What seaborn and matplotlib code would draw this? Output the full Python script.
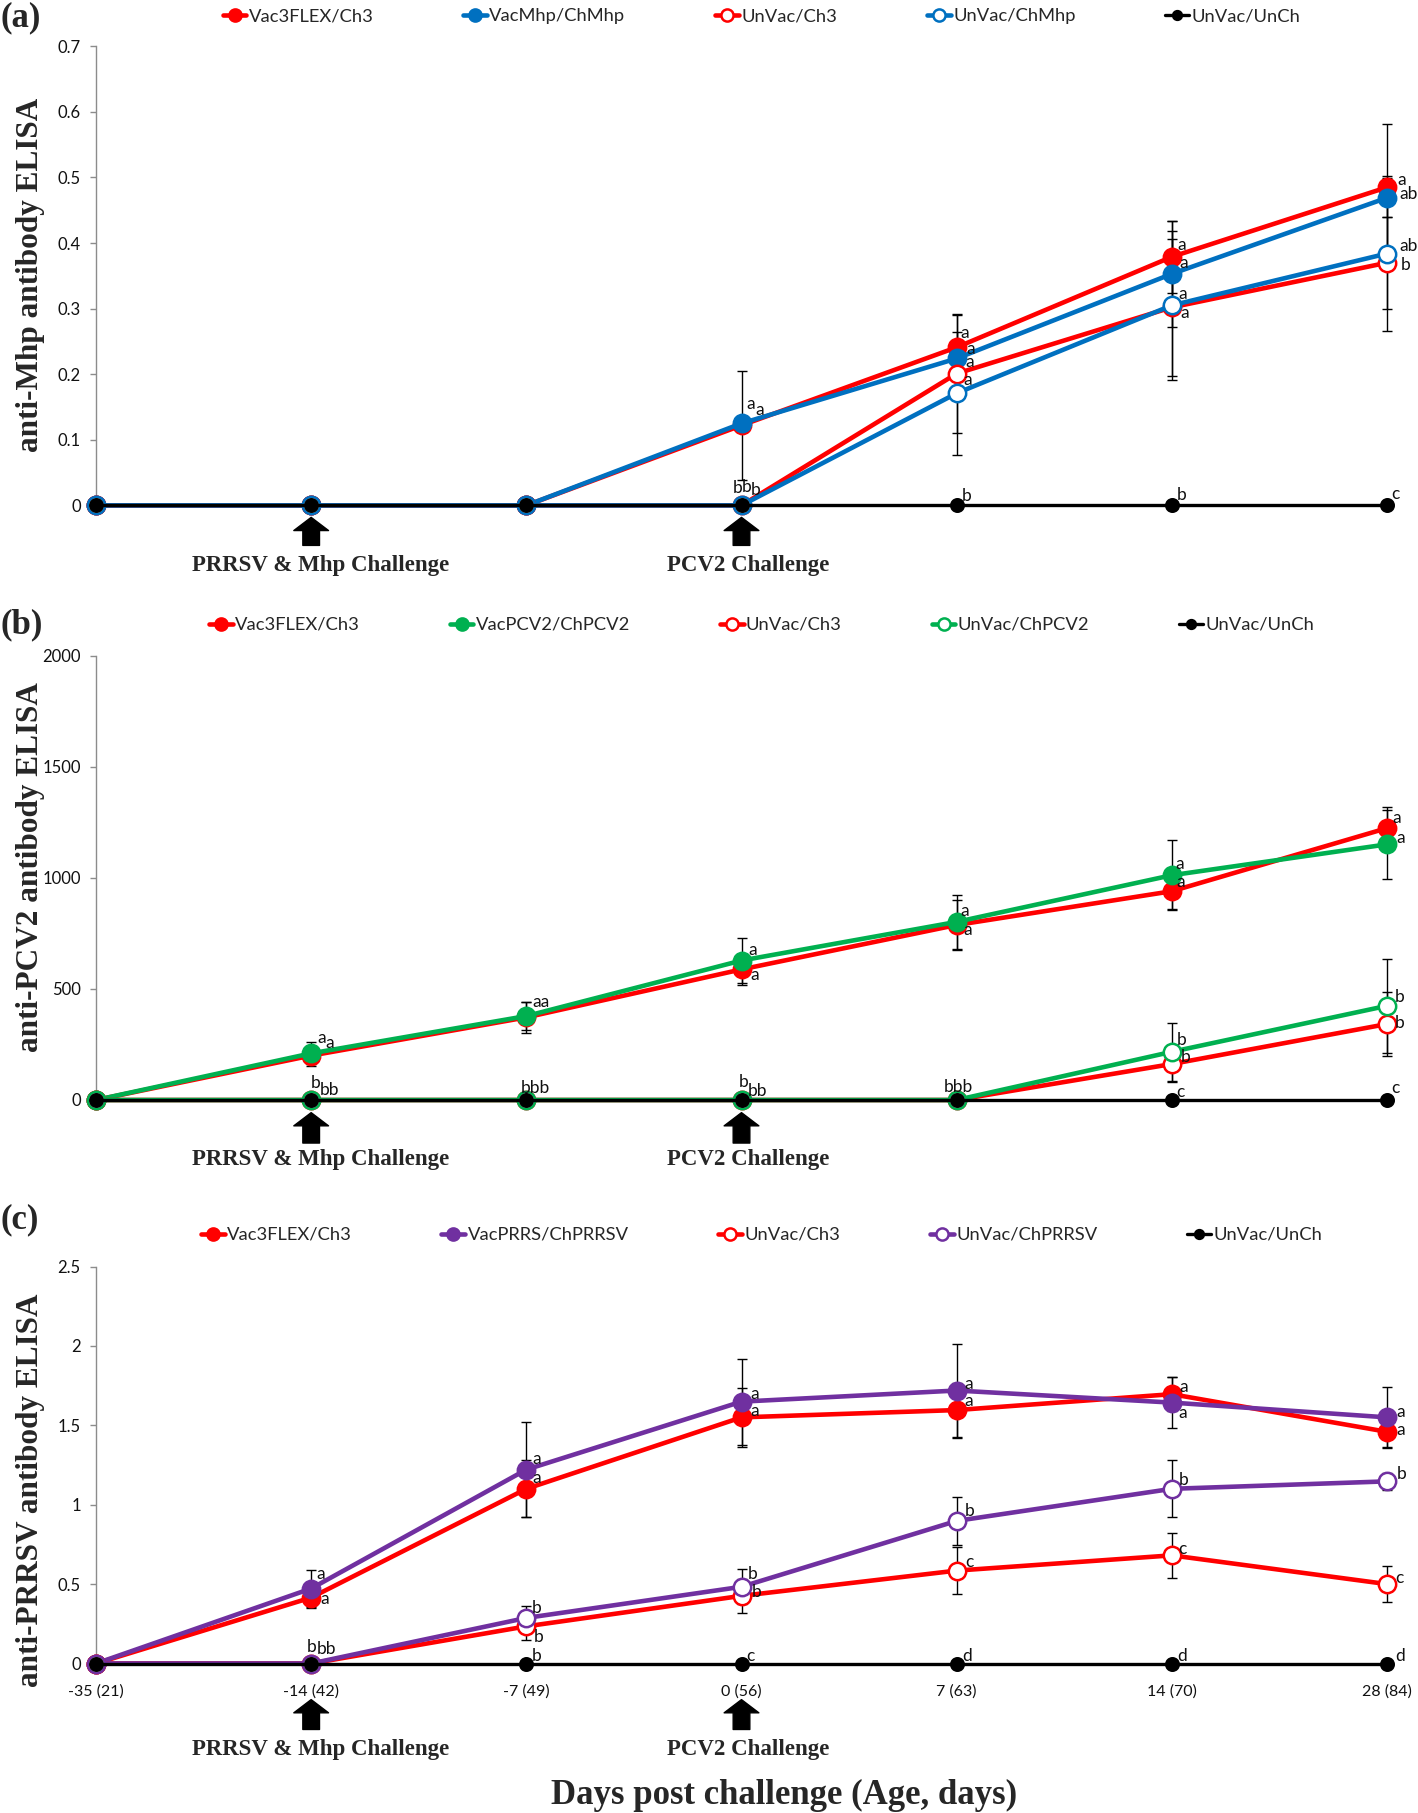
import numpy as np
import matplotlib
matplotlib.use("Agg")
import matplotlib.pyplot as plt
import seaborn as sns

sns.set_theme(style="white")
plt.rcParams['font.family'] = ['Lato', 'DejaVu Sans']
SERIF = 'Liberation Serif'

# eje x: dias post desafio (edad, dias)
days = ["-35 (21)", "-14 (42)", "-7 (49)", "0 (56)", "7 (63)", "14 (70)", "28 (84)"]
zero = [0, 0, 0, 0, 0, 0, 0]

# (a) anti-Mhp ELISA
mhp_vac3 = [0, 0, 0, 0.122, 0.241, 0.379, 0.485]
mhp_vac3_sd = [0, 0, 0, 0.083, 0.050, 0.055, 0.097]
mhp_vacmhp = [0, 0, 0, 0.125, 0.224, 0.353, 0.469]
mhp_vacmhp_sd = [0, 0, 0, 0, 0, 0.081, 0.030]
mhp_unvac3 = [0, 0, 0, 0, 0.201, 0.302, 0.370]
mhp_unvac3_sd = [0, 0, 0, 0, 0.091, 0.104, 0.070]
mhp_unvacmhp = [0, 0, 0, 0, 0.171, 0.305, 0.384]
mhp_unvacmhp_sd = [0, 0, 0, 0, 0.094, 0.114, 0.118]
# letras de significancia: (dia, desplazamiento x, y, texto)
mhp_letters = [
    (3, 0.045, 0.155, "a"), (3, 0.086, 0.146, "a"),
    (3, -0.017, 0.026, "b"), (3, 0.026, 0.028, "b"), (3, 0.065, 0.023, "b"),
    (4, 0.038, 0.263, "a"), (4, 0.067, 0.239, "a"), (4, 0.062, 0.219, "a"), (4, 0.052, 0.191, "a"),
    (4, 0.048, 0.015, "b"),
    (5, 0.046, 0.397, "a"), (5, 0.057, 0.369, "a"), (5, 0.050, 0.323, "a"), (5, 0.059, 0.293, "a"),
    (5, 0.047, 0.016, "b"),
    (6, 0.066, 0.496, "a"), (6, 0.100, 0.475, "ab"), (6, 0.098, 0.396, "ab"), (6, 0.085, 0.367, "b"),
    (6, 0.040, 0.017, "c"),
]

# (b) anti-PCV2 ELISA
pcv_vac3 = [0, 200, 372, 588, 788, 940, 1224]
pcv_vac3_sd = [0, 45, 70, 70, 113, 82, 95]
pcv_vacpcv = [0, 210, 378, 628, 802, 1012, 1151]
pcv_vacpcv_sd = [0, 49, 65, 100, 121, 158, 155]
pcv_unvac3 = [0, 0, 0, 0, 0, 162, 342]
pcv_unvac3_sd = [0, 0, 0, 0, 0, 83, 145]
pcv_unvacpcv = [0, 0, 0, 0, 0, 217, 424]
pcv_unvacpcv_sd = [0, 0, 0, 0, 0, 131, 213]
pcv_letters = [
    (1, 0.050, 277, "a"), (1, 0.086, 255, "a"), (1, 0.020, 75, "b"), (1, 0.085, 45, "bb"),
    (2, 0.070, 443, "aa"), (2, 0.040, 52, "bbb"),
    (3, 0.054, 675, "a"), (3, 0.062, 565, "a"), (3, 0.008, 79, "b"), (3, 0.074, 42, "bb"),
    (4, 0.038, 852, "a"), (4, 0.052, 765, "a"), (4, 0.010, 57, "bbb"),
    (5, 0.038, 1063, "a"), (5, 0.042, 983, "a"), (5, 0.047, 270, "b"), (5, 0.062, 195, "b"),
    (5, 0.042, 34, "c"),
    (6, 0.047, 1268, "a"), (6, 0.064, 1178, "a"), (6, 0.059, 465, "b"), (6, 0.059, 345, "b"),
    (6, 0.038, 52, "c"),
]

# (c) anti-PRRSV ELISA
prrs_vac3 = [0, 0.415, 1.100, 1.550, 1.596, 1.696, 1.459]
prrs_vac3_sd = [0, 0.064, 0.180, 0.186, 0.173, 0.107, 0.095]
prrs_vacprrs = [0, 0.472, 1.221, 1.649, 1.719, 1.643, 1.550]
prrs_vacprrs_sd = [0, 0.117, 0.300, 0.270, 0.293, 0.163, 0.190]
prrs_unvac3 = [0, 0, 0.234, 0.426, 0.585, 0.681, 0.500]
prrs_unvac3_sd = [0, 0, 0.085, 0.107, 0.150, 0.143, 0.115]
prrs_unvacprrs = [0, 0, 0.287, 0.483, 0.898, 1.100, 1.147]
prrs_unvacprrs_sd = [0, 0, 0.075, 0.110, 0.153, 0.180, 0.055]
prrs_letters = [
    (1, 0.042, 0.564, "a"), (1, 0.063, 0.404, "a"), (1, 0.000, 0.105, "b"), (1, 0.070, 0.090, "bb"),
    (2, 0.050, 1.290, "a"), (2, 0.050, 1.168, "a"), (2, 0.050, 0.347, "b"), (2, 0.059, 0.170, "b"),
    (2, 0.046, 0.050, "b"),
    (3, 0.059, 1.696, "a"), (3, 0.059, 1.592, "a"), (3, 0.050, 0.564, "b"), (3, 0.070, 0.451, "b"),
    (3, 0.042, 0.050, "c"),
    (4, 0.057, 1.761, "a"), (4, 0.057, 1.655, "a"), (4, 0.059, 0.962, "b"), (4, 0.059, 0.638, "c"),
    (4, 0.050, 0.050, "d"),
    (5, 0.053, 1.740, "a"), (5, 0.050, 1.580, "a"), (5, 0.057, 1.157, "b"), (5, 0.050, 0.723, "c"),
    (5, 0.050, 0.050, "d"),
    (6, 0.064, 1.586, "a"), (6, 0.064, 1.470, "a"), (6, 0.069, 1.191, "b"), (6, 0.060, 0.538, "c"),
    (6, 0.060, 0.050, "d"),
]

RED, BLUE, GREEN, PURPLE = "#FF0000", "#0070C0", "#00B050", "#7030A0"
challenges = [(1, "PRRSV & Mhp Challenge", 7), (3, "PCV2 Challenge", 5)]

fig = plt.figure(figsize=(14.18, 18.13), dpi=100)


def draw_panel(rect, series, letters, ymax, ystep, ylabel, ylab_y, tag, tag_y, leg_y,
               arrow_tip, arrow_tail, text_dy, xlabels=False):
    ax = fig.add_axes(rect)
    x = np.arange(len(days))
    handles = []
    for i, (label, vals, sd, color, filled) in enumerate(series):
        vals = np.asarray(vals, float)
        sd = np.asarray(sd, float)
        m = sd > 0
        if m.any():
            ax.errorbar(x[m], vals[m], yerr=sd[m], fmt='none', ecolor='black', elinewidth=1.0,
                        capsize=3.5, capthick=1.0, zorder=2, clip_on=False)
        black = color == 'black'
        sns.lineplot(x=x, y=vals, ax=ax, color=color, estimator=None,
                     lw=2.4 if black else 3.3, marker='o', markersize=9 if black else 12.5,
                     markerfacecolor=color if filled else 'white', markeredgecolor=color,
                     markeredgewidth=1.8, zorder=3 + i, clip_on=False)
        handles.append(ax.lines[-1])

    for xi, dx, y, t in letters:
        ax.text(xi + dx, y, t, fontsize=12.5, ha='center', va='center', color='#111111', zorder=10)

    ax.set_xlim(0, 6)
    ax.set_ylim(0, ymax)
    ticks = np.arange(0, ymax + ystep / 2, ystep)
    ax.set_yticks(ticks, [f"{v:g}" for v in ticks])
    ax.set_xticks(x)
    if xlabels:
        ax.set_xticklabels(days)
        ax.tick_params(axis='x', bottom=False, labelsize=11.5, pad=9, labelcolor='#111111')
    else:
        ax.tick_params(axis='x', bottom=False, labelbottom=False)
    ax.tick_params(axis='y', left=True, length=4, width=1, color='#8c8c8c', labelsize=12,
                   pad=7, labelcolor='#111111')
    for s in ['top', 'right']:
        ax.spines[s].set_visible(False)
    for s in ['left', 'bottom']:
        ax.spines[s].set_color('#8c8c8c')
        ax.spines[s].set_linewidth(1.0)
    ax.grid(False)

    # flechas de desafio
    for xi, txt, tdx in challenges:
        ax.annotate('', xy=(xi, 0), xycoords='data', xytext=(0, -arrow_tail),
                    textcoords='offset points', annotation_clip=False,
                    arrowprops=dict(arrowstyle='simple,head_length=0.95,head_width=2.5,tail_width=1.2',
                                    fc='black', ec='black', shrinkA=0, shrinkB=arrow_tip,
                                    mutation_scale=10))
        ax.annotate(txt, xy=(xi, 0), xycoords='data', xytext=(tdx, -text_dy),
                    textcoords='offset points', ha='center', va='center', annotation_clip=False,
                    fontsize=16.5, fontweight='bold', fontfamily=SERIF)

    ax.legend(handles, [s[0] for s in series], ncol=5, loc='center',
              bbox_to_anchor=(0.537, leg_y), bbox_transform=fig.transFigure, frameon=False,
              fontsize=13.2, handlelength=1.3, handletextpad=0.12, columnspacing=4.9,
              markerscale=0.7, borderaxespad=0)

    fig.text(31 / 1418, ylab_y, ylabel, rotation=90, ha='center', va='center',
             fontsize=22.5, fontweight='bold', fontfamily=SERIF)
    fig.text(0.0, tag_y, tag, ha='left', va='center', fontsize=25, fontweight='bold',
             fontfamily=SERIF)
    return ax


W, H = 1418, 1813
left, width = 96 / W, (1387 - 96) / W

series_a = [
    ("Vac3FLEX/Ch3", mhp_vac3, mhp_vac3_sd, RED, True),
    ("VacMhp/ChMhp", mhp_vacmhp, mhp_vacmhp_sd, BLUE, True),
    ("UnVac/Ch3", mhp_unvac3, mhp_unvac3_sd, RED, False),
    ("UnVac/ChMhp", mhp_unvacmhp, mhp_unvacmhp_sd, BLUE, False),
    ("UnVac/UnCh", zero, zero, 'black', True),
]
draw_panel([left, 1 - 505.4 / H, width, (505.4 - 46.3) / H], series_a, mhp_letters, 0.7, 0.1,
           "anti-Mhp antibody ELISA", 1 - 275 / H, "(a)", 1 - 18 / H, 1 - 16 / H,
           8.6, 28.8, 43)

series_b = [
    ("Vac3FLEX/Ch3", pcv_vac3, pcv_vac3_sd, RED, True),
    ("VacPCV2/ChPCV2", pcv_vacpcv, pcv_vacpcv_sd, GREEN, True),
    ("UnVac/Ch3", pcv_unvac3, pcv_unvac3_sd, RED, False),
    ("UnVac/ChPCV2", pcv_unvacpcv, pcv_unvacpcv_sd, GREEN, False),
    ("UnVac/UnCh", zero, zero, 'black', True),
]
draw_panel([left, 1 - 1100 / H, width, (1100 - 655.8) / H], series_b, pcv_letters, 2000, 500,
           "anti-PCV2 antibody ELISA", 1 - 867 / H, "(b)", 1 - 625 / H, 1 - 625 / H,
           9.1, 31, 43)

series_c = [
    ("Vac3FLEX/Ch3", prrs_vac3, prrs_vac3_sd, RED, True),
    ("VacPRRS/ChPRRSV", prrs_vacprrs, prrs_vacprrs_sd, PURPLE, True),
    ("UnVac/Ch3", prrs_unvac3, prrs_unvac3_sd, RED, False),
    ("UnVac/ChPRRSV", prrs_unvacprrs, prrs_unvacprrs_sd, PURPLE, False),
    ("UnVac/UnCh", zero, zero, 'black', True),
]
draw_panel([left, 1 - 1663.5 / H, width, (1663.5 - 1266.5) / H], series_c, prrs_letters, 2.5, 0.5,
           "anti-PRRSV antibody ELISA", 1 - 1490 / H, "(c)", 1 - 1220 / H, 1 - 1235 / H,
           26, 47.5, 62, xlabels=True)

fig.text(784 / W, 1 - 1795 / H, "Days post challenge (Age, days)", ha='center', va='center',
         fontsize=25, fontweight='bold', fontfamily=SERIF)

fig.savefig("out.png", dpi=100, facecolor='white')
